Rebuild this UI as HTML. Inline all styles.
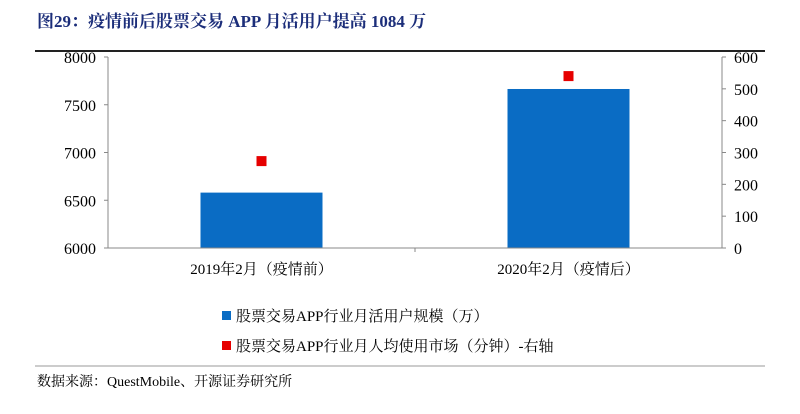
<!DOCTYPE html>
<html><head><meta charset="utf-8"><style>
body{margin:0;background:#fff;width:800px;height:409px;overflow:hidden;font-family:"Liberation Serif","Noto Serif CJK SC",serif}
</style></head><body>
<svg width="800" height="409" font-family="Liberation Serif, Noto Serif CJK SC, serif">
<text x="37" y="27" font-size="17" font-weight="bold" fill="#1c2e7a">图29：疫情前后股票交易 APP 月活用户提高 1084 万</text>
<line x1="35" y1="51" x2="765" y2="51" stroke="#222" stroke-width="2"/>
<g id="plot"></g>
<g>
<rect x="222" y="311" width="9" height="9" fill="#0a6cc4"/>
<text x="236" y="321" font-size="15">股票交易APP行业月活用户规模（万）</text>
<rect x="222" y="341" width="9" height="9" fill="#e60000"/>
<text x="236" y="351" font-size="15">股票交易APP行业月人均使用市场（分钟）-右轴</text>
</g>
<line x1="35" y1="366" x2="765" y2="366" stroke="#999" stroke-width="1"/>
<text x="37" y="386" font-size="14">数据来源：QuestMobile、开源证券研究所</text>
</svg>
<script>
const categories=["2019年2月（疫情前）","2020年2月（疫情后）"];
const mauValues=[6580,7665];
const minutesValues=[273,540];
const leftTicks=[6000,6500,7000,7500,8000];
const rightTicks=[0,100,200,300,400,500,600];
const NS="http://www.w3.org/2000/svg";
const g=document.getElementById('plot');
const X0=108,X1=722,Y0=248,Y1=57;
const yL=v=>Y0-(v-6000)/2000*(Y0-Y1);
const yR=v=>Y0-v/600*(Y0-Y1);
const band=(X1-X0)/categories.length;
const xc=i=>X0+band*(i+0.5);
function mk(t,a,txt){const e=document.createElementNS(NS,t);for(const k in a)e.setAttribute(k,a[k]);if(txt!==undefined)e.textContent=txt;g.appendChild(e);return e;}
let e;
mauValues.forEach((v,i)=>{e=mk('rect',{x:xc(i)-61,y:yL(v),width:122,height:Y0-yL(v),fill:'#0a6cc4'});

});
minutesValues.forEach((v,i)=>{e=mk('rect',{x:xc(i)-5,y:yR(v)-5,width:10,height:10,fill:'#e60000'});

});
e=mk('path',{d:`M${X0},${Y1}V${Y0}H${X1}V${Y1}`,stroke:'#888',fill:'none'});


leftTicks.forEach(v=>{e=mk('text',{x:X0-12,y:yL(v)+6,'font-size':16,'text-anchor':'end'},v);


mk('line',{x1:X0-4,x2:X0,y1:yL(v),y2:yL(v),stroke:'#888'});});
rightTicks.forEach(v=>{e=mk('text',{x:X1+12,y:yR(v)+6,'font-size':16},v);


mk('line',{x1:X1,x2:X1+4,y1:yR(v),y2:yR(v),stroke:'#888'});});
mk('line',{x1:X0+band,x2:X0+band,y1:Y0,y2:Y0+4,stroke:'#888'});
categories.forEach((c,i)=>{e=mk('text',{x:xc(i),y:Y0+26,'font-size':15,'text-anchor':'middle'},c);

});
</script>
</body></html>
